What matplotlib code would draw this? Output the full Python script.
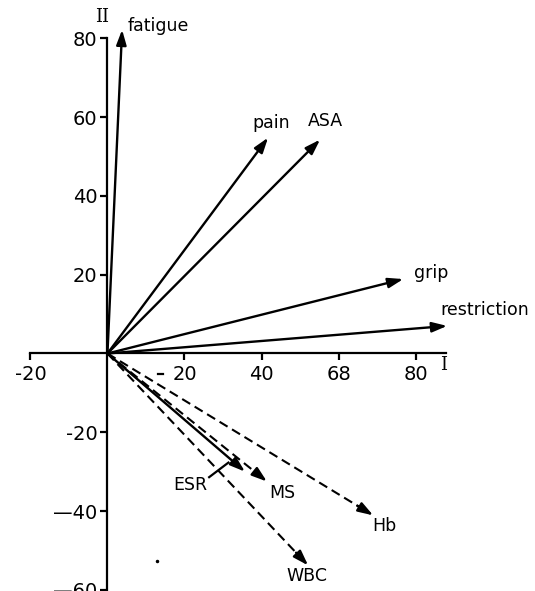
import matplotlib
matplotlib.use("Agg")
import matplotlib.pyplot as plt

# vector end points (component I, component II)
solid_names = ["fatigue", "pain", "ASA", "grip", "restriction", "ESR"]
solid_x = [3.8, 41.7, 55.2, 76.8, 88.2, 35.7]
solid_y = [82.2, 54.8, 54.3, 18.9, 7.0, -30.0]

dashed_names = ["MS", "Hb", "WBC"]
dashed_x = [41.4, 69.0, 52.1]
dashed_y = [-32.5, -41.1, -53.8]

x_ticks = [-20, 20, 40, 60, 80]
x_tick_labels = ["-20", "20", "40", "68", "80"]
y_ticks = [80, 60, 40, 20, -20, -40, -60]
y_tick_labels = ["80", "60", "40", "20", "-20", "\u201440", "\u201460"]

# where each label sits (left x, centre y)
label_pos = {
    "fatigue": (5.3, 83.2),
    "pain": (37.5, 58.5),
    "ASA": (52.0, 59.0),
    "grip": (79.5, 20.5),
    "restriction": (86.5, 11.0),
    "ESR": (17.0, -33.3),
    "MS": (42.0, -35.5),
    "Hb": (68.8, -43.8),
    "WBC": (46.5, -56.6),
}

fig = plt.figure(figsize=(5.35, 5.91), dpi=100)
ax = fig.add_axes([0, 0, 1, 1])
ax.set_xlim(-27.9, 111.0)
ax.set_ylim(-60.3, 89.75)

ax.spines["top"].set_visible(False)
ax.spines["right"].set_visible(False)
ax.spines["left"].set_position(("data", 0))
ax.spines["bottom"].set_position(("data", 0))
ax.spines["left"].set_bounds(-61, 80)
ax.spines["bottom"].set_bounds(-20, 88)
ax.spines["left"].set_linewidth(1.6)
ax.spines["bottom"].set_linewidth(1.6)

ax.set_xticks(x_ticks)
ax.set_xticklabels(x_tick_labels)
ax.set_yticks(y_ticks)
ax.set_yticklabels(y_tick_labels)
ax.tick_params(axis="both", direction="out", length=5, width=1.6,
               labelsize=14, pad=2)
ax.tick_params(axis="x", pad=3)

head = dict(arrowstyle="-|>,head_length=0.75,head_width=0.25",
            color="black", lw=1.7, mutation_scale=12,
            shrinkA=0, shrinkB=0)

for x, y in zip(solid_x, solid_y):
    ax.annotate("", xy=(x, y), xytext=(0, 0), arrowprops=head)

for x, y in zip(dashed_x, dashed_y):
    ax.plot([0, x * 0.95], [0, y * 0.95], color="black", lw=1.5,
            ls=(0, (4.5, 2.5)), solid_capstyle="butt")
    ax.annotate("", xy=(x, y), xytext=(x * 0.94, y * 0.94), arrowprops=head)

for name in solid_names + dashed_names:
    lx, ly = label_pos[name]
    ax.text(lx, ly, name, fontsize=12.5, ha="left", va="center")

# leader line for ESR
ax.plot([26.4, 31.4], [-31.4, -27.7], color="black", lw=1.6)

# axis names
ax.text(-1.5, 85.5, "II", fontsize=13, family="DejaVu Serif",
        ha="center", va="center")
ax.text(87.3, -3.0, "I", fontsize=13, family="DejaVu Serif",
        ha="center", va="center")

# stray marks of the print
ax.plot([13.2, 14.4], [-5.3, -5.3], color="black", lw=1.6)
ax.plot([12.8], [-52.8], "k.", ms=3)

fig.savefig("out.png", dpi=100)
